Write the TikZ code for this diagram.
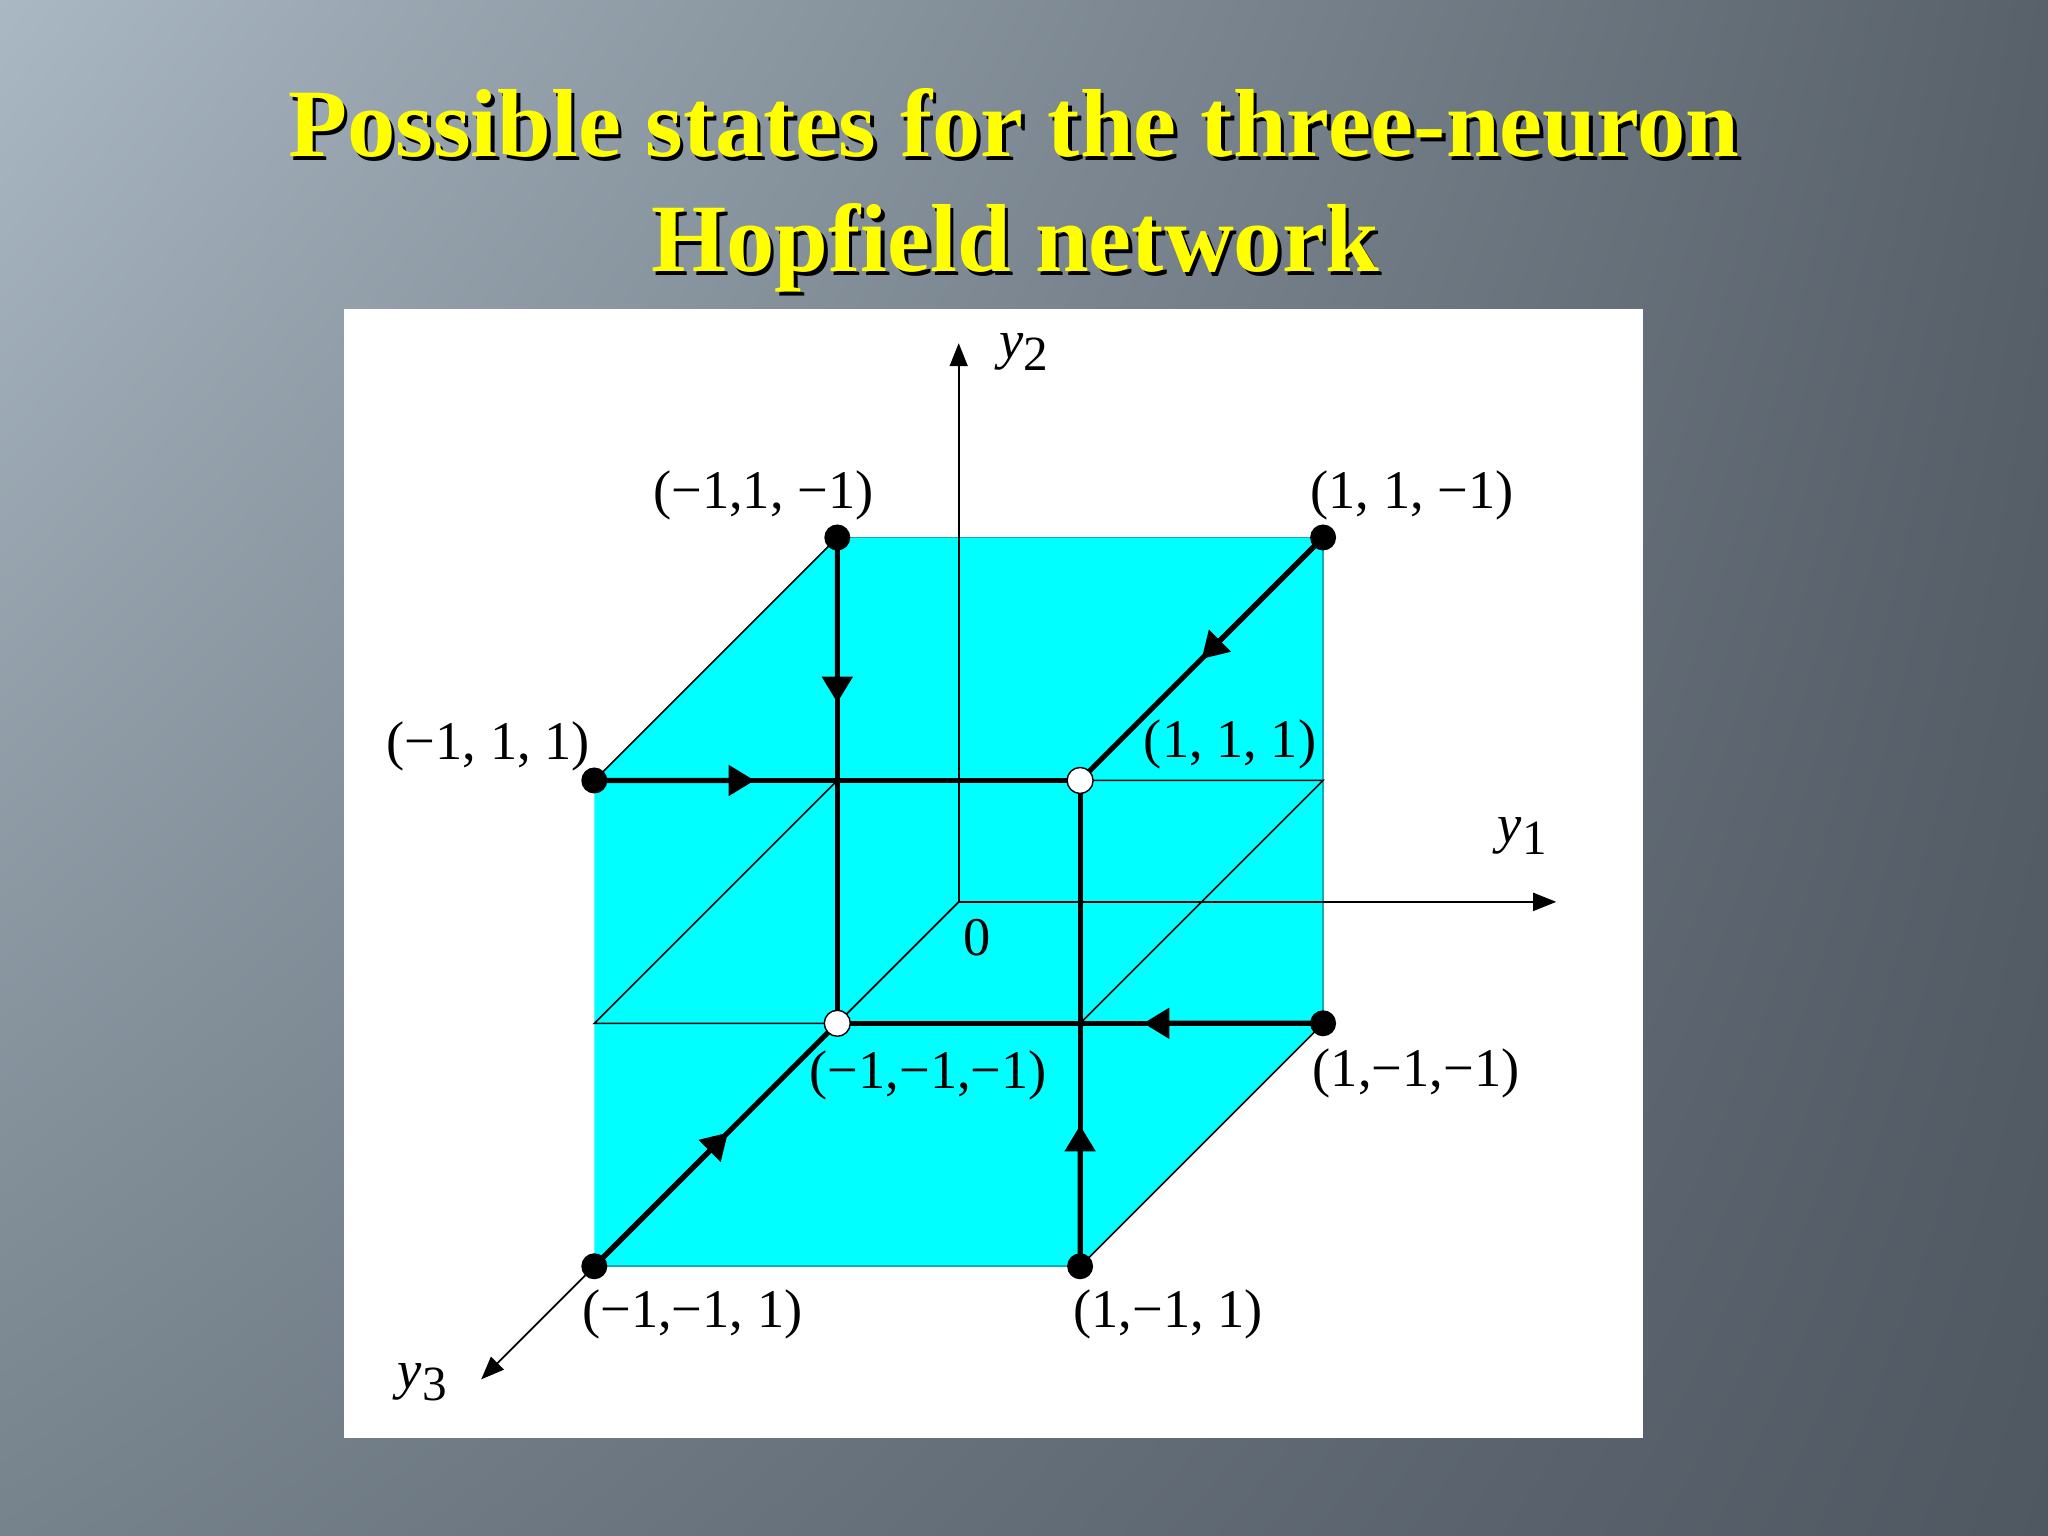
\documentclass[tikz,border=0pt]{standalone}
\usepackage{fontspec}
\setmainfont{Liberation Serif}
\usetikzlibrary{arrows.meta,calc,positioning,shadings}

\definecolor{bgUL}{HTML}{AAB8C3}
\definecolor{bgUR}{HTML}{58616A}
\definecolor{bgLL}{HTML}{76828C}
\definecolor{bgLR}{HTML}{4F5761}
\definecolor{titleyellow}{HTML}{FFFF00}
\definecolor{cubecyan}{RGB}{0,255,255}
\definecolor{cubeedge}{RGB}{20,170,185}

\newcommand{\yax}[1]{\textit{y}\raisebox{-0.5ex}{\fontsize{14}{14}\selectfont #1}}

\tikzset{
  title/.style={font=\bfseries\fontsize{27.5}{33}\selectfont, inner sep=0pt, anchor=base},
  lbl/.style={font=\fontsize{15.5}{18}\selectfont, inner sep=0pt},
  edge/.style={line width=1.45pt},
  flow/.style={line width=1.45pt, -{Triangle[length=2.6mm,width=3mm]}},
  hair/.style={line width=0.45pt},
  axis/.style={line width=0.5pt, -{Triangle[length=2.3mm,width=1.8mm]}},
  dot/.style={circle, fill=black, inner sep=0pt, minimum size=2.6mm},
  odot/.style={circle, fill=white, draw=black, line width=0.4pt, inner sep=0pt, minimum size=2.6mm},
}

\begin{document}
\begin{tikzpicture}
  %%%%% BACKGROUND %%%%%
  \shade[upper left=bgUL, upper right=bgUR, lower left=bgLL, lower right=bgLR] (0,0) rectangle (20.48,15.36);
  \useasboundingbox (0,0) rectangle (20.48,15.36);

  %%%%% TITLE %%%%%
  \node[title, text=black] (tsh1) at (10.175,13.755) {Possible states for the three-neuron};
  \node[title, text=titleyellow] (t1) at (10.14,13.79) {Possible states for the three-neuron};
  \node[title, text=black] (tsh2) at (10.185,12.605) {Hopfield network};
  \node[title, text=titleyellow] (t2) at (10.15,12.64) {Hopfield network};

  %%%%% PANEL %%%%%
  \fill[white] (3.435,0.98) rectangle (16.43,12.265);

  \begin{scope}[shift={(9.587,6.341)}, x={(2.429cm,0cm)}, y={(0cm,2.429cm)}, z={(-1.215cm,-1.215cm)}]
    % corners of the cube
    \coordinate (mpm) at (-1,1,-1);
    \coordinate (ppm) at (1,1,-1);
    \coordinate (mpp) at (-1,1,1);
    \coordinate (ppp) at (1,1,1);
    \coordinate (mmm) at (-1,-1,-1);
    \coordinate (pmm) at (1,-1,-1);
    \coordinate (mmp) at (-1,-1,1);
    \coordinate (pmp) at (1,-1,1);
    % middle section
    \coordinate (q1) at (-1,0,-1);
    \coordinate (q2) at (1,0,-1);
    \coordinate (q3) at (1,0,1);
    \coordinate (q4) at (-1,0,1);
    % axes
    \coordinate (o) at (0,0,0);
    \coordinate (e1) at (2.46,0,0);
    \coordinate (e2) at (0,2.30,0);
    \coordinate (e3) at (0,0,3.93);

    \fill[cubecyan] (mpp) -- (mpm) -- (ppm) -- (pmm) -- (pmp) -- (mmp) -- cycle;
    \draw[hair, draw=cubeedge] (mpm) -- (ppm) -- (pmm);
    \draw[hair, draw=cubeedge] (pmp) -- (mmp);
    \draw[hair] (mpp) -- (mpm);
    \draw[hair] (pmm) -- (pmp);
    \draw[hair] (q1) -- (q2) -- (q3) -- (q4) -- cycle;

    \draw[axis] (o) -- (e1);
    \draw[axis] (o) -- (e2);
    \draw[axis] (o) -- (e3);

    % transitions
    \draw[edge] (mpm) -- (mmm);
    \draw[edge] (ppm) -- (ppp);
    \draw[edge] (mpp) -- (ppp);
    \draw[edge] (pmm) -- (mmm);
    \draw[edge] (mmp) -- (mmm);
    \draw[edge] (pmp) -- (ppp);
    \draw[flow] (mpm) -- ($(mpm)!0.34!(mmm)$);
    \draw[flow] (ppm) -- ($(ppm)!0.5!(ppp)$);
    \draw[flow] (mpp) -- ($(mpp)!0.33!(ppp)$);
    \draw[flow] (pmm) -- ($(pmm)!0.37!(mmm)$);
    \draw[flow] (mmp) -- ($(mmp)!0.55!(mmm)$);
    \draw[flow] (pmp) -- ($(pmp)!0.29!(ppp)$);

    % states
    \node[dot] (smpm) at (mpm) {};
    \node[dot] (sppm) at (ppm) {};
    \node[dot] (smpp) at (mpp) {};
    \node[odot] (sppp) at (ppp) {};
    \node[odot] (smmm) at (mmm) {};
    \node[dot] (spmm) at (pmm) {};
    \node[dot] (smmp) at (mmp) {};
    \node[dot] (spmp) at (pmp) {};

    \node[lbl, xshift=-7.4mm, yshift=4.2mm] (lmpm) at (mpm) {(−1,1, −1)};
    \node[lbl, xshift=8.9mm, yshift=4.2mm] (lppm) at (ppm) {(1, 1, −1)};
    \node[lbl, xshift=-10.6mm, yshift=3.4mm] (lmpp) at (mpp) {(−1, 1, 1)};
    \node[lbl, xshift=15.0mm, yshift=3.65mm] (lppp) at (ppp) {(1, 1, 1)};
    \node[lbl, xshift=9.1mm, yshift=-5.2mm] (lmmm) at (mmm) {(−1,−1,−1)};
    \node[lbl, xshift=9.3mm, yshift=-5.0mm] (lpmm) at (pmm) {(1,−1,−1)};
    \node[lbl, xshift=9.8mm, yshift=-4.8mm] (lmmp) at (mmp) {(−1,−1, 1)};
    \node[lbl, xshift=8.8mm, yshift=-4.8mm] (lpmp) at (pmp) {(1,−1, 1)};

    \node[lbl, xshift=6.5mm, yshift=-0.9mm] (ly2) at (e2) {\yax{2}};
    \node[lbl, xshift=-3.4mm, yshift=6.6mm] (ly1) at (e1) {\yax{1}};
    \node[lbl, xshift=-5.9mm, yshift=-0.3mm] (ly3) at (e3) {\yax{3}};
    \node[lbl, xshift=1.8mm, yshift=-3.6mm] (lo) at (o) {0};
  \end{scope}
\end{tikzpicture}
\end{document}
